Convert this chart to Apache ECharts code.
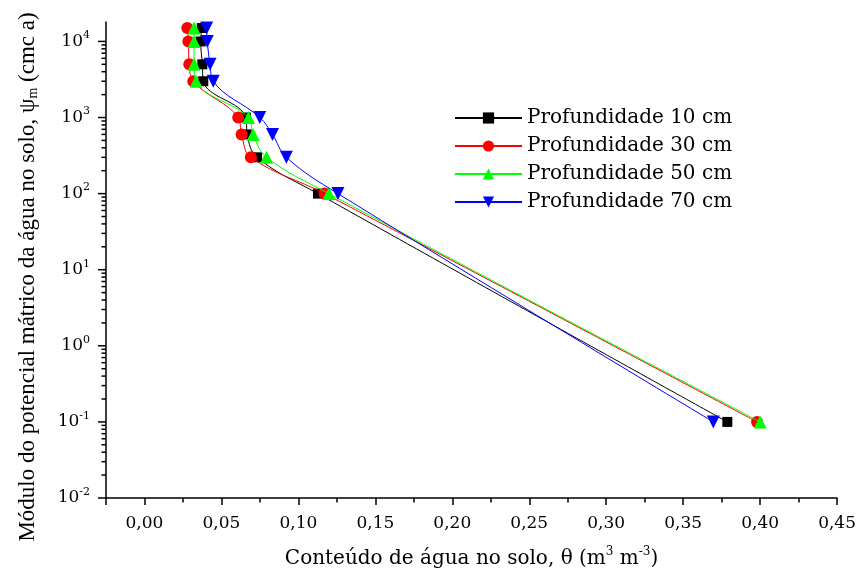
<!DOCTYPE html>
<html><head><meta charset="utf-8">
<script src="https://cdn.jsdelivr.net/npm/echarts@6/dist/echarts.min.js"></script>
<style>html,body{margin:0;padding:0;background:#fff}#c{width:859px;height:575px}</style>
</head><body><div id="c"></div>
<script>
// Data
const seriesNames = ['Profundidade 10 cm', 'Profundidade 30 cm', 'Profundidade 50 cm', 'Profundidade 70 cm'];
const psi = [15000, 10000, 5000, 3000, 1000, 600, 300, 100, 0.1];
const theta10 = [0.0372, 0.0365, 0.0376, 0.0382, 0.0659, 0.0668, 0.0732, 0.1127, 0.3787];
const theta30 = [0.0278, 0.0285, 0.0291, 0.0317, 0.0609, 0.0631, 0.0691, 0.1170, 0.3980];
const theta50 = [0.0322, 0.0322, 0.0322, 0.0335, 0.0676, 0.0706, 0.0793, 0.1198, 0.4000];
const theta70 = [0.0404, 0.0408, 0.0426, 0.0447, 0.0749, 0.0832, 0.0922, 0.1257, 0.3696];
const xTickLabels = ['0,00','0,05','0,10','0,15','0,20','0,25','0,30','0,35','0,40','0,45'];
const yMajorTicks = [0.01, 0.1, 1, 10, 100, 1000, 10000];
const yMinorMultipliers = [2, 3, 4, 5, 6, 7, 8, 9];

const X_MIN = -0.025, X_MAX = 0.45, Y_MIN = 0.01, Y_MAX = 18000;
const HFONT = 'DejaVu Serif';
const VFONT = 'Liberation Serif';

const yTicks = [];
yMajorTicks.forEach(v => {
  yTicks.push([X_MIN, v, 1]);
  yMinorMultipliers.forEach(m => { const mv = v * m; if (mv < Y_MAX) yTicks.push([X_MIN, mv, 0]); });
});

const colors = ['#000000', '#ff0000', '#00ff00', '#0000ff'];
const symbols = ['rect', 'circle', 'triangle', 'path://M0,0 L10,0 L5,9 Z'];
const sizes = [10, 12, 13, 13];
const thetas = [theta10, theta30, theta50, theta70];

const series = thetas.map((t, i) => ({
  name: seriesNames[i],
  type: 'line',
  data: t.map((x, j) => [x, psi[j]]),
  smooth: 0.4,
  symbol: symbols[i],
  symbolSize: sizes[i],
  showAllSymbol: true,
  lineStyle: { color: colors[i], width: 1 },
  itemStyle: { color: colors[i] },
  z: 3 + i
}));
series.push({
  type: 'custom', silent: true, clip: false, z: 10,
  data: yTicks,
  renderItem: function (params, api) {
    const p = api.coord([api.value(0), api.value(1)]);
    const len = api.value(2) ? 8 : 4.5;
    return { type: 'line', shape: { x1: p[0] - len, y1: p[1], x2: p[0], y2: p[1] },
             style: { stroke: '#000', lineWidth: 1.5 } };
  }
});

const chart = echarts.init(document.getElementById('c'), null, { renderer: 'canvas' });
chart.setOption({
  animation: false,
  backgroundColor: '#fff',
  grid: { left: 106, right: 19, top: 22, bottom: 77, containLabel: false },
  legend: {
    data: seriesNames,
    orient: 'vertical', left: 449, top: 103,
    itemWidth: 67, itemHeight: 14, itemGap: 8,
    textStyle: { fontFamily: HFONT, fontSize: 20, color: '#000' },
    inactiveColor: '#ccc'
  },
  xAxis: [{
    type: 'value', min: X_MIN, max: X_MAX, splitNumber: 10,
    position: 'bottom',
    axisLine: { onZero: false, lineStyle: { color: '#000', width: 1.5 } },
    axisTick: { show: true, length: 7, lineStyle: { color: '#000', width: 1.5 } },
    splitLine: { show: false },
    axisLabel: {
      margin: 17, color: '#000', fontFamily: HFONT, fontSize: 17,
      formatter: function (v) {
        const k = Math.round(v / 0.05);
        if (Math.abs(v / 0.05 - k) > 1e-6 || k < 0) return '';
        return xTickLabels[k];
      }
    },
    name: '{t|Conteúdo de água no solo, θ (m}{s|3}{t| m}{s|-3}{t|)}',
    nameLocation: 'middle', nameGap: 48,
    nameTextStyle: {
      color: '#000', fontFamily: HFONT, fontSize: 20,
      rich: {
        t: { fontFamily: HFONT, fontSize: 20, color: '#000' },
        s: { fontFamily: HFONT, fontSize: 12, color: '#000', padding: [0, 0, 14, 0] }
      }
    }
  }, {
    type: 'value', min: X_MIN, max: X_MAX, interval: 0.05,
    position: 'bottom',
    axisLine: { show: false, onZero: false },
    axisTick: { show: true, length: 4.5, lineStyle: { color: '#000', width: 1.5 } },
    axisLabel: { show: false },
    splitLine: { show: false }
  }],
  yAxis: {
    type: 'log', logBase: 10, min: Y_MIN, max: Y_MAX,
    axisLine: { onZero: false, lineStyle: { color: '#000', width: 1.5 } },
    axisTick: { show: false },
    splitLine: { show: false },
    minorTick: { show: false },
    axisLabel: {
      margin: 16, color: '#000', fontFamily: HFONT, fontSize: 17,
      formatter: function (v) {
        const e = Math.round(Math.log10(v));
        if (Math.abs(Math.log10(v) - e) > 1e-6) return '';
        return '{b|10}{s|' + e + '}';
      },
      rich: {
        b: { fontFamily: HFONT, fontSize: 17, color: '#000' },
        s: { fontFamily: HFONT, fontSize: 11, color: '#000', padding: [0, 0, 12, 0] }
      }
    },
    name: '{t|Módulo do potencial mátrico da água no solo, ψ}{m|m}{t| (cmc a)}',
    nameLocation: 'middle', nameGap: 66, nameRotate: 90,
    nameTextStyle: {
      color: '#000', fontFamily: VFONT, fontSize: 23,
      padding: [0, 34, 0, 0],
      rich: {
        t: { fontFamily: VFONT, fontSize: 23, color: '#000' },
        m: { fontFamily: VFONT, fontSize: 14, color: '#000', padding: [10, 0, 0, 0] }
      }
    }
  },
  series: series
});
</script>
</body></html>
